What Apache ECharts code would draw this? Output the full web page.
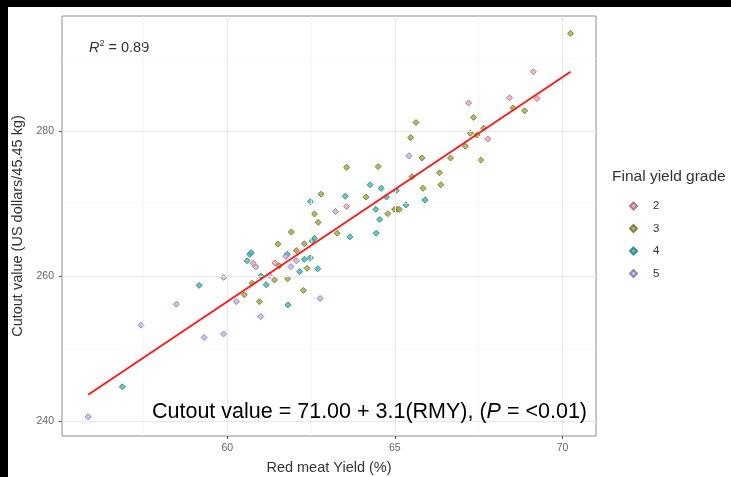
<!DOCTYPE html>
<html>
<head>
<meta charset="utf-8">
<script src="https://cdn.jsdelivr.net/npm/echarts@6/dist/echarts.min.js"></script>
<style>
html, body { margin: 0; padding: 0; background: #000; }
#myChart { width: 731px; height: 477px; }
</style>
</head>
<body>
<div id="myChart"></div>
<script>
// points: [red meat yield %, cutout value]
let grade2 = [[69.13, 288.2], [69.24, 284.5], [68.42, 284.6], [67.2, 283.9], [67.77, 278.9],
  [63.56, 269.6], [60.77, 261.75], [61.42, 261.8]];
let grade3 = [[70.24, 293.5], [68.53, 283.2], [68.87, 282.8], [67.35, 281.9], [67.65, 280.4],
  [67.25, 279.7], [67.45, 279.45], [67.1, 277.9], [67.56, 276.0], [65.63, 281.2], [65.47, 279.1],
  [65.81, 276.3], [66.66, 276.3], [65.51, 273.7], [66.33, 274.25], [66.37, 272.6], [65.84, 272.1],
  [63.56, 275.0], [64.5, 275.1], [64.14, 270.9], [64.79, 268.6], [64.99, 269.2], [65.07, 269.2],
  [65.13, 269.2], [62.8, 271.3], [62.6, 268.55], [62.71, 267.4], [63.28, 265.9], [62.3, 264.45],
  [62.38, 261.05], [61.91, 266.07], [61.51, 264.4], [62.06, 263.5], [61.55, 261.4], [61.41, 259.45],
  [61.8, 259.6], [60.74, 259.0], [60.51, 257.4], [60.96, 256.45], [62.27, 258.0]];
let grade4 = [[65.9, 270.5], [64.26, 272.6], [64.59, 272.1], [63.52, 271.0], [64.75, 270.9],
  [65.04, 271.8], [64.43, 269.2], [64.55, 267.8], [65.33, 269.8], [62.48, 270.25], [63.66, 265.4],
  [64.44, 265.9], [62.6, 265.2], [62.53, 264.8], [62.3, 262.3], [62.48, 262.5], [62.7, 261.0],
  [60.59, 262.1], [60.67, 263.0], [60.72, 263.2], [61.79, 263.0], [62.16, 260.6], [61.0, 260.0],
  [61.16, 258.8], [59.16, 258.7], [61.81, 256.0], [56.87, 244.7]];
let grade5 = [[65.42, 276.6], [63.23, 268.9], [60.85, 261.25], [61.75, 262.7], [62.06, 262.1],
  [61.9, 261.3], [61.26, 260.1], [59.89, 259.8], [60.27, 256.45], [62.77, 256.9], [61.0, 254.4],
  [58.48, 256.1], [57.43, 253.2], [59.31, 251.5], [59.89, 252.0], [55.85, 240.55]];
// fitted line ends
let fitLine = [[55.85, 243.6], [70.24, 288.2]];

let xTicks = [60, 65, 70];
let yTicks = [240, 260, 280];
let xMinor = [57.5, 62.5, 67.5];
let yMinor = [250, 270, 290];

let grades = ['2', '3', '4', '5'];
let pts = [grade2, grade3, grade4, grade5];
let fills = ['#eab0b8', '#a9ad4a', '#4dbdb6', '#c9b6ea'];
let edges = ['#a86a76', '#6d7330', '#2d7f7a', '#8576a6'];

let myChart = echarts.init(document.getElementById('myChart'));

let gridLines = [];
xMinor.forEach(v => gridLines.push({ xAxis: v, lineStyle: { color: '#f4f4f4', width: 0.6 } }));
yMinor.forEach(v => gridLines.push({ yAxis: v, lineStyle: { color: '#f4f4f4', width: 0.6 } }));
xTicks.forEach(v => gridLines.push({ xAxis: v, lineStyle: { color: '#e8e8e8', width: 1 } }));
yTicks.forEach(v => gridLines.push({ yAxis: v, lineStyle: { color: '#e8e8e8', width: 1 } }));

let series = [{
  name: 'grid',
  type: 'line',
  data: [],
  silent: true,
  markLine: { silent: true, symbol: 'none', label: { show: false }, lineStyle: { type: 'solid' }, data: gridLines }
}];
grades.forEach((g, i) => {
  series.push({
    name: g,
    type: 'scatter',
    symbol: 'diamond',
    symbolSize: 6,
    itemStyle: { color: fills[i], borderColor: edges[i], borderWidth: 1, opacity: 0.85 },
    data: pts[i]
  });
});
series.push({
  name: 'fit',
  type: 'line',
  data: fitLine,
  symbol: 'none',
  lineStyle: { color: '#ff1a1a', width: 2 },
  z: 5
});

let option = {
  backgroundColor: '#fff',
  animation: false,
  textStyle: { fontFamily: 'Liberation Sans' },
  grid: {
    left: 62, top: 16, right: 135, bottom: 41, containLabel: false, outerBoundsMode: 'none',
    show: true, borderColor: '#8c8c8c', borderWidth: 1, backgroundColor: '#fff'
  },
  xAxis: {
    type: 'value', min: 55.07, max: 71.0,
    name: 'Red meat Yield (%)', nameLocation: 'middle', nameGap: 24,
    nameTextStyle: { color: '#333', fontSize: 14.5 },
    axisLine: { show: false },
    axisTick: { show: true, length: 3, lineStyle: { color: '#555' }, customValues: xTicks },
    axisLabel: { color: '#666', fontSize: 10.5, margin: 7, customValues: xTicks },
    splitLine: { show: false }
  },
  yAxis: {
    type: 'value', min: 237.9, max: 295.9,
    name: 'Cutout value (US dollars/45.45 kg)', nameLocation: 'middle', nameGap: 34,
    nameTextStyle: { color: '#333', fontSize: 14.5 },
    axisLine: { show: false },
    axisTick: { show: true, length: 3, lineStyle: { color: '#555' }, customValues: yTicks },
    axisLabel: { color: '#666', fontSize: 10.5, margin: 8, customValues: yTicks },
    splitLine: { show: false }
  },
  legend: {
    data: grades,
    orient: 'vertical',
    left: 624, top: 195,
    itemWidth: 7, itemHeight: 7, itemGap: 10.5,
    icon: 'diamond',
    textStyle: { color: '#333', fontSize: 11.5, padding: [0, 0, 0, 11] }
  },
  graphic: [
    { type: 'rect', left: 0, top: 0, shape: { width: 731, height: 7 }, style: { fill: '#000' } },
    { type: 'rect', left: 0, top: 0, shape: { width: 8, height: 477 }, style: { fill: '#000' } },
    {
      type: 'text', left: 612, top: 169,
      style: { text: 'Final yield grade', fill: '#333', font: '15.5px "Liberation Sans"' }
    },
    {
      type: 'text', left: 89, top: 39,
      style: {
        text: '{r|R}{s|2}{t| = 0.89}',
        rich: {
          r: { fontStyle: 'italic', fontSize: 14.5, fill: '#333', fontFamily: 'Liberation Sans' },
          s: { fontSize: 9, fill: '#333', fontFamily: 'Liberation Sans', padding: [0, 0, 9, 0] },
          t: { fontSize: 14.5, fill: '#333', fontFamily: 'Liberation Sans' }
        }
      }
    },
    {
      type: 'text', left: 152, top: 401, z: 10,
      style: {
        text: '{a|Cutout value = 71.00 + 3.1(RMY), (}{p|P}{a| = <0.01)}',
        rich: {
          a: { fontSize: 21.5, fill: '#000', fontFamily: 'Liberation Sans' },
          p: { fontSize: 21.5, fill: '#000', fontStyle: 'italic', fontFamily: 'Liberation Sans' }
        }
      }
    }
  ],
  series: series
};
myChart.setOption(option);
</script>
</body>
</html>
